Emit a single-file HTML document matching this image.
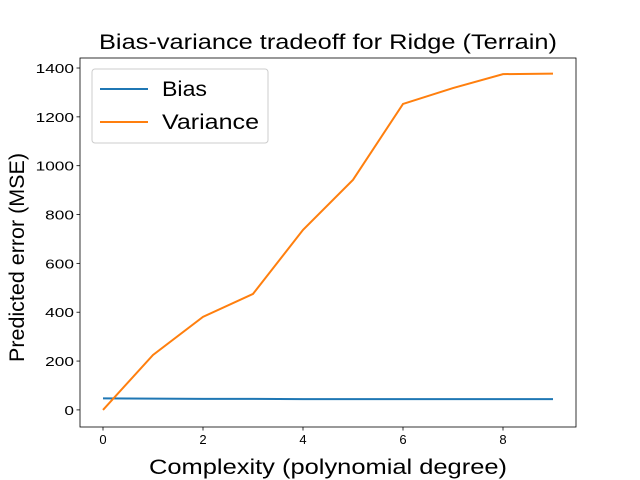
<!DOCTYPE html>
<html><head><meta charset="utf-8"><style>
body{margin:0;background:#fff;}
svg{display:block;font-family:"Liberation Sans",Arial,sans-serif;}
</style></head><body>
<svg id="chart" width="640" height="480" viewBox="0 0 640 480">
<rect width="640" height="480" fill="#fff"/>
<text x="99" y="49" font-size="21" textLength="458" lengthAdjust="spacingAndGlyphs">Bias-variance tradeoff for Ridge (Terrain)</text>
<g id="plot"></g>
</svg>
<script>
const degrees=[0,1,2,3,4,5,6,7,8,9];
const biasValues=[47,46,45,45,44,44,44,44,44,44];
const varianceValues=[0,225,381,475,737,942,1253,1318,1375,1377];
const xTicks=[0,2,4,6,8];
const yTicks=[0,200,400,600,800,1000,1200,1400];
const L=80,R=576,T=58,B=427;
const xMin=-0.46,xMax=9.46,yMin=-70,yMax=1441;
const sx=v=>L+(v-xMin)/(xMax-xMin)*(R-L);
const sy=v=>B-(v-yMin)/(yMax-yMin)*(B-T);
const NS="http://www.w3.org/2000/svg";
const g=document.getElementById('plot');
function mk(t,a,p){const e=document.createElementNS(NS,t);for(const k in a)e.setAttribute(k,a[k]);(p||g).appendChild(e);return e;}
xTicks.forEach(v=>{const x=sx(v);
 const l=mk('line',{x1:x,x2:x,y1:B,y2:B+3.5,stroke:'#000','stroke-width':0.8});
 
 
 const t=mk('text',{x:x,y:B+17,'font-size':13,'text-anchor':'middle'});t.textContent=v;
 
 
});
yTicks.forEach(v=>{const y=sy(v);
 const l=mk('line',{x1:L-3.5,x2:L,y1:y,y2:y,stroke:'#000','stroke-width':0.8});
 
 
 const s=String(v);
 const t=mk('text',{x:L-6,y:y+5,'font-size':13,'text-anchor':'end',textLength:s.length*9.6,lengthAdjust:'spacingAndGlyphs'});t.textContent=s;
 
 
});
function line(vals,color,name){
 const p=mk('polyline',{points:degrees.map((d,i)=>sx(d)+','+sy(vals[i])).join(' '),fill:'none',stroke:color,'stroke-width':2});
 
 
}
line(biasValues,'#1f77b4','bias-line');
line(varianceValues,'#ff7f0e','variance-line');
const fr=mk('rect',{x:L,y:T,width:R-L,height:B-T,fill:'none',stroke:'#000','stroke-width':0.8});


const xl=mk('text',{x:149,y:474,'font-size':21,textLength:358,lengthAdjust:'spacingAndGlyphs'});xl.textContent='Complexity (polynomial degree)';


const yl=mk('text',{x:0,y:0,'font-size':21,textLength:209,lengthAdjust:'spacingAndGlyphs',transform:'translate(24,362) rotate(-90)'});yl.textContent='Predicted error (MSE)';


const lg=mk('g',{});


mk('rect',{x:92,y:69,width:176,height:74,rx:3,fill:'#fff',stroke:'#ccc','stroke-width':1},lg);
[['Bias','#1f77b4',89,45],['Variance','#ff7f0e',122,97]].forEach(([n,c,y,w])=>{
 mk('line',{x1:100,x2:148,y1:y,y2:y,stroke:c,'stroke-width':2},lg);
 const t=mk('text',{x:162,y:y+7,'font-size':21,textLength:w,lengthAdjust:'spacingAndGlyphs'},lg);t.textContent=n;
 
 
});
</script>
</body></html>
